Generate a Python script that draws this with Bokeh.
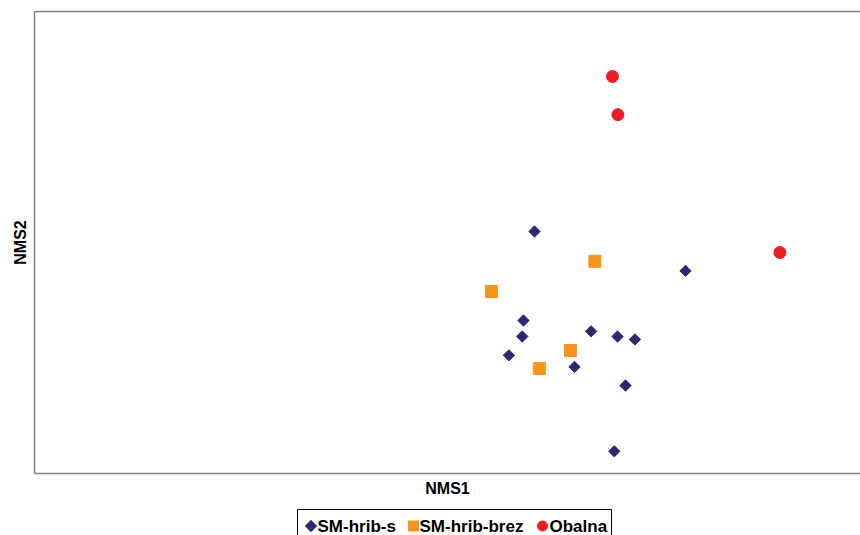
import math
from bokeh.plotting import figure
from bokeh.layouts import column
from bokeh.models import Range1d, LinearAxis, FixedTicker
from bokeh.core.properties import value
from bokeh.embed import file_html
from bokeh.resources import INLINE

# NMS ordination scores
hrib_s_x = [0.500, 1.255, 0.445, 0.439, 0.783, 0.915, 1.002, 0.372, 0.700, 0.955, 0.899]
hrib_s_y = [0.010, -0.187, -0.435, -0.515, -0.489, -0.515, -0.530, -0.609, -0.667, -0.760, -1.089]

hrib_brez_x = [0.802, 0.285, 0.680, 0.524]
hrib_brez_y = [-0.139, -0.290, -0.585, -0.675]

obalna_x = [0.890, 0.917, 1.727]
obalna_y = [0.785, 0.594, -0.095]

series_names = ["SM-hrib-s", "SM-hrib-brez", "Obalna"]
x_title = "NMS1"
y_title = "NMS2"

NAVY = "#2b2a6e"
ORANGE = "#f7941d"
RED = "#ed1c24"
FONT = "Liberation Sans"

STYLES = [dict(marker="square", size=8, angle=math.pi / 4, fill_color=NAVY, line_color=NAVY),
          dict(marker="square", size=10, fill_color=ORANGE, line_color=ORANGE),
          dict(marker="circle", size=10, fill_color=RED, line_color=RED)]
PLOT_SIZES = [8, 12, 12]
SERIES = [(hrib_s_x, hrib_s_y), (hrib_brez_x, hrib_brez_y), (obalna_x, obalna_y)]

# ---------------------------------------------------------------- chart
p = figure(width=860, height=500, output_backend="svg", toolbar_location=None,
           x_range=Range1d(-2.0, 2.13), y_range=Range1d(-1.2, 1.11),
           min_border_left=34, min_border_right=0, min_border_top=11, min_border_bottom=27,
           x_axis_location=None, y_axis_location=None)
p.outline_line_color = None
p.grid.grid_line_color = None
p.background_fill_color = "white"
p.border_fill_color = "white"


def mk_axis(label=None):
    ax = LinearAxis(ticker=FixedTicker(ticks=[]), axis_line_color="#808080",
                    axis_line_width=1.5,
                    major_tick_line_color=None, minor_tick_line_color=None,
                    major_tick_out=0, major_tick_in=0, minor_tick_out=0, minor_tick_in=0,
                    major_label_text_font_size="0px", major_label_standoff=0)
    if label:
        ax.axis_label = label
        ax.axis_label_text_font = FONT
        ax.axis_label_text_font_style = "bold"
        ax.axis_label_text_font_size = "16px"
        ax.axis_label_text_color = "black"
        ax.axis_label_standoff = 6
    return ax


p.add_layout(mk_axis(y_title), "left")
p.add_layout(mk_axis(x_title), "below")
p.add_layout(mk_axis(), "above")

for (xs, ys), st, sz in zip(SERIES, STYLES, PLOT_SIZES):
    p.scatter(xs, ys, **dict(st, size=sz))

# ---------------------------------------------------------------- legend strip
# (its lower part runs off the page, as in the original); the strip's ranges are
# page pixels so the legend box, keys and labels can be laid out directly.
LEG_LEFT, LEG_RIGHT, LEG_TOP = 297, 611, 509
LEG_KEY_X = [310.5, 413, 542]
LEG_TEXT_X = [317, 419, 549]
LEG_ROW_Y = 525.5

lg = figure(width=860, height=35, output_backend="svg", toolbar_location=None,
            x_range=Range1d(34, 860), y_range=Range1d(535, 500),
            min_border_left=34, min_border_right=0, min_border_top=0, min_border_bottom=0,
            x_axis_location=None, y_axis_location=None)
lg.outline_line_color = None
lg.grid.grid_line_color = None
lg.border_fill_color = "white"
lg.background_fill_color = "white"

lg.quad(left=[LEG_LEFT], right=[LEG_RIGHT], top=[LEG_TOP], bottom=[LEG_TOP + 40],
        fill_color="white", line_color="black", line_width=1)
for kx, st in zip(LEG_KEY_X, STYLES):
    lg.scatter([kx], [LEG_ROW_Y], **st)
lg.text(x=LEG_TEXT_X, y=[LEG_ROW_Y] * 3, text=series_names,
        text_font=value(FONT), text_font_style="bold", text_font_size="17px",
        text_color="black", text_align="left", text_baseline="middle")

layout = column(p, lg, spacing=0)
open("out.html", "w").write(file_html(layout, INLINE))
